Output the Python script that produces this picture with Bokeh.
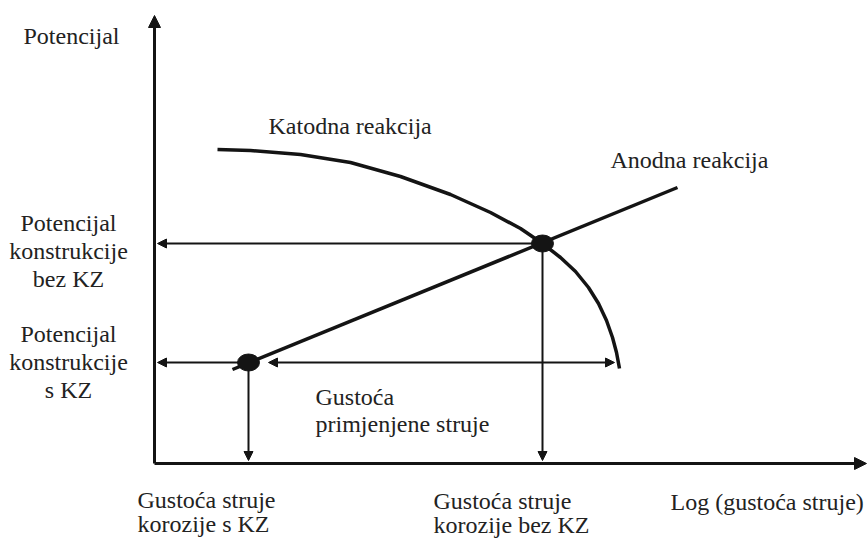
from bokeh.plotting import figure
from bokeh.models import Range1d, Arrow, NormalHead
from bokeh.core.properties import value
from bokeh.embed import file_html
from bokeh.resources import INLINE

# ---- data (arbitrary units: log current density vs potential) ----
cath_logi = [1.26, 1.92, 2.92, 3.92, 4.92, 5.92, 6.72, 7.32, 7.76, 8.12, 8.42, 8.68,
             8.88, 9.04, 9.16, 9.24, 9.30]
cath_E    = [6.28, 6.26, 6.18, 6.02, 5.74, 5.38, 5.02, 4.70, 4.40, 4.12, 3.84, 3.52,
             3.20, 2.86, 2.52, 2.22, 1.90]

anod_logi = [1.56, 10.46]
anod_E    = [1.88, 5.52]

# operating points: [without CP (bez KZ), with CP (s KZ)]
pt_logi = [7.76, 1.88]
pt_E    = [4.40, 2.02]
applied_end_logi = 9.20      # end of the applied-current arrow
applied_start_logi = 2.28    # head of applied-current arrow next to the point

axis_x_max = 14.24
axis_y_max = 8.96

y_title = "Potencijal"
x_title = "Log (gustoća struje)"
cath_label = "Katodna reakcija"
anod_label = "Anodna reakcija"
E_free_label = ["Potencijal", "konstrukcije", "bez KZ"]
E_cp_label = ["Potencijal", "konstrukcije", "s KZ"]
i_cp_label = ["Gustoća struje", "korozije s KZ"]
i_free_label = ["Gustoća struje", "korozije bez KZ"]
applied_label = ["Gustoća", "primjenjene struje"]

INK = "#141414"
TXT = "#222222"
FONT = value("Liberation Serif")
FS = "24px"

p = figure(width=868, height=538, output_backend="svg", toolbar_location=None,
           x_range=Range1d(-3.08, 14.28), y_range=Range1d(-1.50, 9.26),
           min_border=0, background_fill_color="white", border_fill_color="white")
p.axis.visible = False
p.grid.visible = False
p.outline_line_color = None

def head(sz):
    return NormalHead(size=sz, fill_color=INK, line_color=INK, line_width=1)

# axes with arrow heads
p.add_layout(Arrow(end=head(12), x_start=0, y_start=0, x_end=0, y_end=axis_y_max,
                   line_width=3, line_color=INK))
p.add_layout(Arrow(end=head(12), x_start=0, y_start=0, x_end=axis_x_max, y_end=0,
                   line_width=3, line_color=INK))

# curves
p.line(cath_logi, cath_E, line_width=3.5, line_color=INK, line_join="round")
p.line(anod_logi, anod_E, line_width=3.5, line_color=INK)

# guide arrows
tip = 0.06
for xi, ei in zip(pt_logi, pt_E):
    p.add_layout(Arrow(end=head(9), x_start=xi, y_start=ei, x_end=tip, y_end=ei,
                       line_width=2, line_color=INK))
    p.add_layout(Arrow(end=head(9), x_start=xi, y_start=ei, x_end=xi, y_end=tip,
                       line_width=2, line_color=INK))
p.add_layout(Arrow(start=head(9), end=head(9), x_start=applied_start_logi, y_start=pt_E[1],
                   x_end=applied_end_logi, y_end=pt_E[1], line_width=2, line_color=INK))

# operating points
p.ellipse(x=pt_logi, y=pt_E, width=0.44, height=0.34, fill_color=INK, line_color=INK)

def txt(x, y, s, align="left"):
    p.text(x=[x], y=[y], text=[s], text_font=FONT, text_font_size=FS,
           text_align=align, text_baseline="middle", text_color=TXT)

txt(-2.62, 8.56, y_title)
txt(2.28, 6.76, cath_label)
txt(9.12, 6.08, anod_label)
for k, s in enumerate(E_free_label):
    txt(-1.72, 4.82 - 0.56 * k, s, "center")
for k, s in enumerate(E_cp_label):
    txt(-1.72, 2.60 - 0.56 * k, s, "center")
for k, s in enumerate(applied_label):
    txt(3.22, 1.34 - 0.54 * k, s)
for k, s in enumerate(i_cp_label):
    txt(-0.34, -0.72 - 0.48 * k, s)
for k, s in enumerate(i_free_label):
    txt(5.58, -0.74 - 0.48 * k, s)
txt(10.32, -0.76, x_title)

open("out.html", "w").write(file_html(p, INLINE))
